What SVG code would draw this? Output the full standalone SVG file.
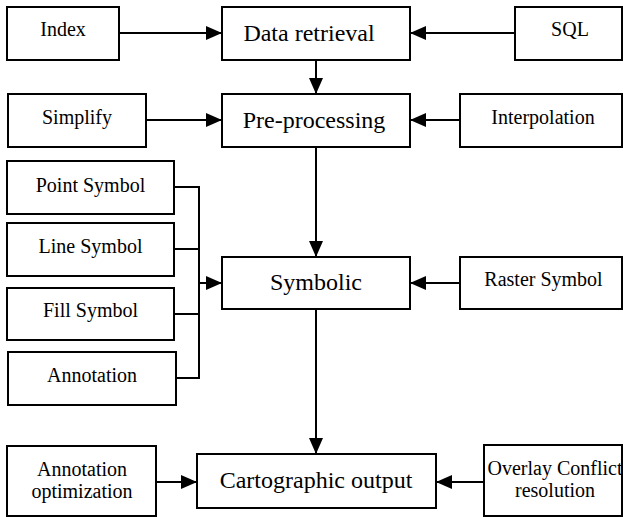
<svg xmlns="http://www.w3.org/2000/svg" width="623" height="517" viewBox="0 0 623 517">
<style>
.box{fill:#fff;stroke:#000;stroke-width:2}
text{font-family:'Liberation Serif','Times New Roman',Tinos,'DejaVu Serif',serif;fill:#000;text-anchor:middle}
.s{font-size:20px}
.m{font-size:24px}
.c{fill:none;stroke:#000;stroke-width:2}
.a{marker-end:url(#arr)}
</style>
<defs>
<marker id="arr" markerUnits="userSpaceOnUse" markerWidth="16" markerHeight="14" refX="16" refY="7" orient="auto">
<path d="M0,0 L16,7 L0,14 z" fill="#000"/>
</marker>
</defs>
<rect width="623" height="517" fill="#fff"/>
<g id="connectors">
<line class="c a" x1="119" y1="33" x2="222" y2="33"/>
<line class="c a" x1="515" y1="33" x2="410" y2="33"/>
<line class="c a" x1="316" y1="60" x2="316" y2="94"/>
<line class="c a" x1="146" y1="120" x2="222" y2="120"/>
<line class="c a" x1="460" y1="120" x2="410" y2="120"/>
<line class="c a" x1="316" y1="147" x2="316" y2="257"/>
<polyline class="c" points="174,187 199,187 199,378 176,378"/>
<line class="c" x1="174" y1="249" x2="199" y2="249"/>
<line class="c" x1="174" y1="314" x2="199" y2="314"/>
<line class="c a" x1="199" y1="283" x2="222" y2="283"/>
<line class="c a" x1="460" y1="283" x2="410" y2="283"/>
<line class="c a" x1="316" y1="309" x2="316" y2="454"/>
<line class="c a" x1="156" y1="482" x2="197" y2="482"/>
<line class="c a" x1="484" y1="482" x2="436" y2="482"/>
</g>
<g id="index"><rect class="box" x="7" y="7" width="112" height="53"/><text class="s" x="63" y="36">Index</text></g>
<g id="data-retrieval"><rect class="box" x="222" y="7" width="188" height="53"/><text class="m" x="309" y="41">Data retrieval</text></g>
<g id="sql"><rect class="box" x="515" y="7" width="107" height="53"/><text class="s" x="570" y="36">SQL</text></g>
<g id="simplify"><rect class="box" x="8" y="94" width="138" height="53"/><text class="s" x="77" y="124">Simplify</text></g>
<g id="pre-processing"><rect class="box" x="222" y="94" width="188" height="53"/><text class="m" x="314" y="128">Pre-processing</text></g>
<g id="interpolation"><rect class="box" x="460" y="94" width="162" height="53"/><text class="s" x="543" y="124">Interpolation</text></g>
<g id="point-symbol"><rect class="box" x="7" y="161" width="167" height="53"/><text class="s" x="90.5" y="192">Point Symbol</text></g>
<g id="line-symbol"><rect class="box" x="7" y="223" width="167" height="53"/><text class="s" x="90.5" y="253">Line Symbol</text></g>
<g id="fill-symbol"><rect class="box" x="7" y="288" width="167" height="52"/><text class="s" x="90.5" y="317">Fill Symbol</text></g>
<g id="annotation"><rect class="box" x="8" y="352" width="168" height="53"/><text class="s" x="92" y="382">Annotation</text></g>
<g id="symbolic"><rect class="box" x="222" y="257" width="188" height="52"/><text class="m" x="316" y="290">Symbolic</text></g>
<g id="raster-symbol"><rect class="box" x="460" y="257" width="162" height="52"/><text class="s" x="543.5" y="286">Raster Symbol</text></g>
<g id="annotation-optimization"><rect class="box" x="7" y="446" width="149" height="70"/><text class="s" x="82" y="476">Annotation</text><text class="s" x="82" y="498">optimization</text></g>
<g id="cartographic-output"><rect class="box" x="197" y="454" width="239" height="54"/><text class="m" x="316" y="488">Cartographic output</text></g>
<g id="overlay-conflict"><rect class="box" x="484" y="445" width="138" height="71"/><text class="s" x="555" y="475">Overlay Conflict</text><text class="s" x="555" y="497">resolution</text></g>
</svg>
